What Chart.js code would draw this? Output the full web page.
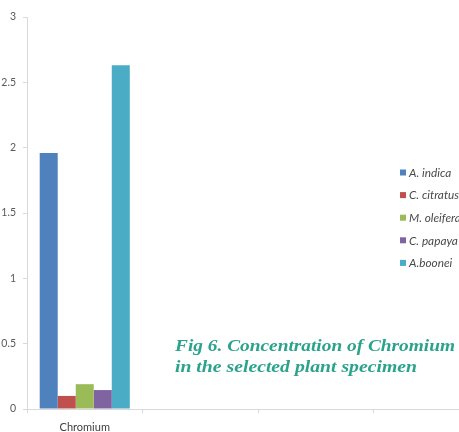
<!DOCTYPE html>
<html>
<head>
<meta charset="utf-8">
<script src="https://cdn.jsdelivr.net/npm/chart.js@4.4.0/dist/chart.umd.min.js"></script>
<style>
  html, body { margin: 0; padding: 0; background: #fff; overflow: hidden; width: 459px; height: 432px; }
  #wrap { position: relative; width: 500px; height: 432px; }
</style>
</head>
<body>
<div id="wrap"><canvas id="c" width="500" height="432"></canvas></div>
<script>
// Metal categories on the x axis (only the first one carries data)
const categories = ['Chromium', '', '', ''];
// Plant species (one series each)
const species = ['A. indica', 'C. citratus', 'M. oleifera', 'C. papaya', 'A.boonei'];
// Chromium concentration per species
const chromium = [1.96, 0.10, 0.19, 0.145, 2.63];
// Value axis tick labels
const yTicks = [0, 0.5, 1, 1.5, 2, 2.5, 3];
const seriesColors = ['#4F81BD', '#C0504D', '#9BBB59', '#8064A2', '#4BACC6'];
const figureCaption = ['Fig 6. Concentration of Chromium', 'in the selected plant specimen'];

const datasets = species.map((name, i) => ({
  label: name,
  data: categories.map((c, j) => (j === 0 ? chromium[i] : null)),
  backgroundColor: seriesColors[i],
  borderWidth: 0,
  categoryPercentage: 0.78,
  barPercentage: 1.0
}));

// Legend drawn in the right part of the plot, Excel style
const sideLegend = {
  id: 'sideLegend',
  afterDraw(chart) {
    const ctx = chart.ctx;
    ctx.save();
    ctx.font = 'italic 11.8px Lato';
    ctx.textBaseline = 'middle';
    chart.data.datasets.forEach((ds, i) => {
      const y = 172.5 + i * 22.6;
      ctx.fillStyle = ds.backgroundColor;
      ctx.fillRect(400, y - 3, 6, 6);
      ctx.fillStyle = '#4A4A4A';
      ctx.fillText(ds.label, 409, y + 0.5);
    });
    ctx.restore();
  }
};

// Figure caption inside the plot area, each line fitted to its width
const caption = {
  id: 'caption',
  afterDraw(chart) {
    const ctx = chart.ctx;
    const lines = [
      { text: figureCaption[0], x: 175, y: 351, w: 280 },
      { text: figureCaption[1], x: 175, y: 372, w: 242 }
    ];
    ctx.save();
    ctx.font = 'italic bold 17.5px "Liberation Serif"';
    ctx.fillStyle = '#2BA38C';
    ctx.textBaseline = 'alphabetic';
    lines.forEach(l => {
      const s = l.w / ctx.measureText(l.text).width;
      ctx.save();
      ctx.translate(l.x, l.y);
      ctx.scale(s, 1);
      ctx.fillText(l.text, 0, 0);
      ctx.restore();
    });
    ctx.restore();
  }
};

new Chart(document.getElementById('c'), {
  type: 'bar',
  data: { labels: categories, datasets },
  options: {
    responsive: false,
    animation: false,
    layout: { padding: { top: 17, right: 11, left: 0, bottom: 0 } },
    plugins: { legend: { display: false }, tooltip: { enabled: false } },
    scales: {
      x: {
        grid: { drawOnChartArea: false, drawTicks: true, tickLength: 4, color: '#D9D9D9', offset: true },
        border: { display: true, color: '#D9D9D9', width: 1 },
        ticks: { color: '#404040', font: { family: 'Lato', size: 11 }, padding: 8, maxRotation: 0, autoSkip: false },
        afterFit(scale) { scale.height = 23; }
      },
      y: {
        min: 0,
        max: 3,
        afterBuildTicks(scale) { scale.ticks = yTicks.map(v => ({ value: v })); },
        grid: { drawOnChartArea: false, drawTicks: true, tickLength: 4, color: '#D9D9D9' },
        border: { display: true, color: '#D9D9D9', width: 1 },
        ticks: {
          color: '#595959',
          font: { family: 'Lato', size: 10.5 },
          padding: 7,
          callback: v => String(v)
        },
        afterFit(scale) { scale.width = 27; }
      }
    }
  },
  plugins: [sideLegend, caption]
});
</script>
</body>
</html>
